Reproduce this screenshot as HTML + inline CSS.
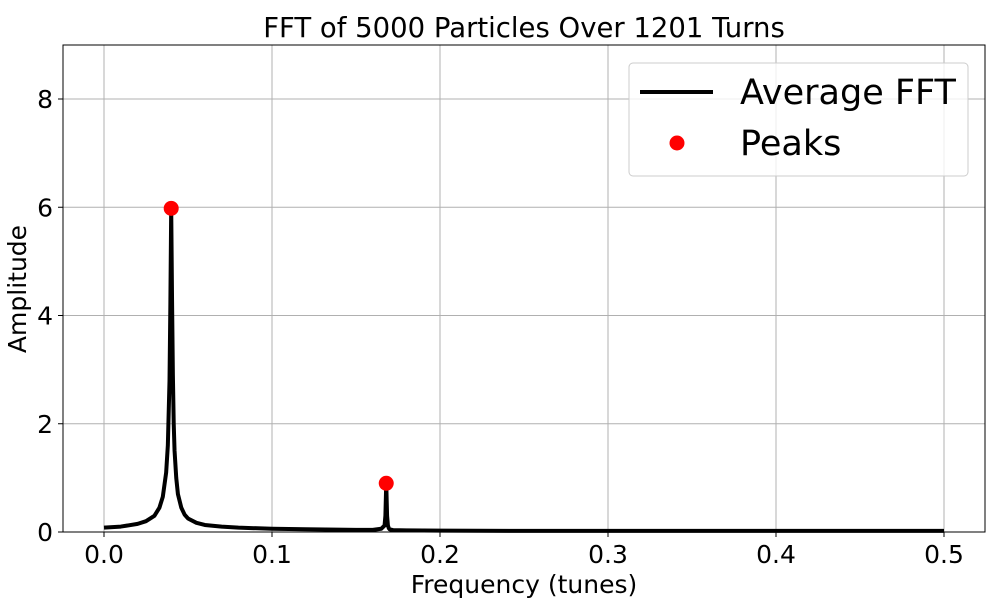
<!DOCTYPE html>
<html><head><meta charset="utf-8"><style>
body{margin:0;background:#fff;}
svg{display:block;font-family:"DejaVu Sans","Liberation Sans",sans-serif;}
</style></head><body>
<svg id="chart" width="1000" height="600">
<rect x="0" y="0" width="1000" height="600" fill="#fff"/>
<g id="grid"></g>
<g id="xticks"></g>
<g id="yticks"></g>
<g id="series"></g>
<rect x="63" y="45" width="922" height="487" fill="none" stroke="#000" stroke-width="1"/>
<text x="524" y="37" font-size="27.5" text-anchor="middle">FFT of 5000 Particles Over 1201 Turns</text>
<text x="524" y="593" font-size="25" text-anchor="middle">Frequency (tunes)</text>
<text x="0" y="0" font-size="25" text-anchor="middle" transform="translate(26,289) rotate(-90)">Amplitude</text>
<g>
<rect x="629" y="63" width="339" height="113" rx="4" fill="#fff" fill-opacity="0.8" stroke="#ccc"/>
<line x1="640" y1="92" x2="713" y2="92" stroke="#000" stroke-width="4"/>
<text x="740" y="104" font-size="35">Average FFT</text>
<circle cx="677" cy="143" r="7.5" fill="#f00"/>
<text x="740" y="155" font-size="35">Peaks</text>
</g>
</svg>
<script>
const freqs=[0,0.01,0.02,0.025,0.03,0.033,0.035,0.037,0.038,0.039,0.0395,0.0400,0.0405,0.041,0.0415,0.042,0.043,0.044,0.046,0.048,0.05,0.055,0.06,0.07,0.08,0.1,0.12,0.15,0.16,0.165,0.167,0.1675,0.168,0.1685,0.169,0.1695,0.170,0.172,0.18,0.2,0.25,0.3,0.4,0.5];
const amps=[0.08,0.10,0.15,0.20,0.30,0.45,0.65,1.1,1.6,2.8,4.2,5.98,4.3,2.9,2.0,1.5,1.0,0.7,0.45,0.32,0.25,0.17,0.13,0.10,0.08,0.06,0.05,0.04,0.04,0.06,0.12,0.3,0.9,0.3,0.12,0.07,0.05,0.035,0.03,0.025,0.02,0.02,0.02,0.02];
const peakFreqs=[0.0400,0.168];
const peakAmps=[5.98,0.90];
const xTicks=[0,0.1,0.2,0.3,0.4,0.5];
const xTickLabels=["0.0","0.1","0.2","0.3","0.4","0.5"];
const yTicks=[0,2,4,6,8];
const yTickLabels=["0","2","4","6","8"];
const NS="http://www.w3.org/2000/svg";
const X=v=>104+v*1680;
const Y=v=>532-v*54.125;
function mk(tag,attrs,parent){const e=document.createElementNS(NS,tag);for(const k in attrs)e.setAttribute(k,attrs[k]);parent.appendChild(e);return e;}
const grid=document.getElementById('grid'),gx=document.getElementById('xticks'),gy=document.getElementById('yticks'),gs=document.getElementById('series');
xTicks.forEach((t,i)=>{
 const l=mk('line',{x1:X(t),x2:X(t),y1:45,y2:532,stroke:'#b0b0b0','stroke-width':1},grid);
 
 
 const tk=mk('line',{x1:X(t),x2:X(t),y1:532,y2:537,stroke:'#000'},gx);
 
 
 const tx=mk('text',{x:X(t),y:563,'font-size':25,'text-anchor':'middle'},gx);
 tx.textContent=xTickLabels[i];
 
 
});
yTicks.forEach((t,i)=>{
 const l=mk('line',{x1:63,x2:985,y1:Y(t),y2:Y(t),stroke:'#b0b0b0','stroke-width':1},grid);
 
 
 const tk=mk('line',{x1:58,x2:63,y1:Y(t),y2:Y(t),stroke:'#000'},gy);
 
 
 const tx=mk('text',{x:53,y:Y(t)+9,'font-size':25,'text-anchor':'end'},gy);
 tx.textContent=yTickLabels[i];
 
 
});
const p=mk('path',{d:freqs.map((f,i)=>(i?'L':'M')+X(f)+','+Y(amps[i])).join(''),fill:'none',stroke:'#000','stroke-width':4,'stroke-linejoin':'round'},gs);


peakFreqs.forEach((f,i)=>{
 const c=mk('circle',{cx:X(f),cy:Y(peakAmps[i]),r:7.5,fill:'#f00'},gs);
 
 
});
</script>
</body></html>
